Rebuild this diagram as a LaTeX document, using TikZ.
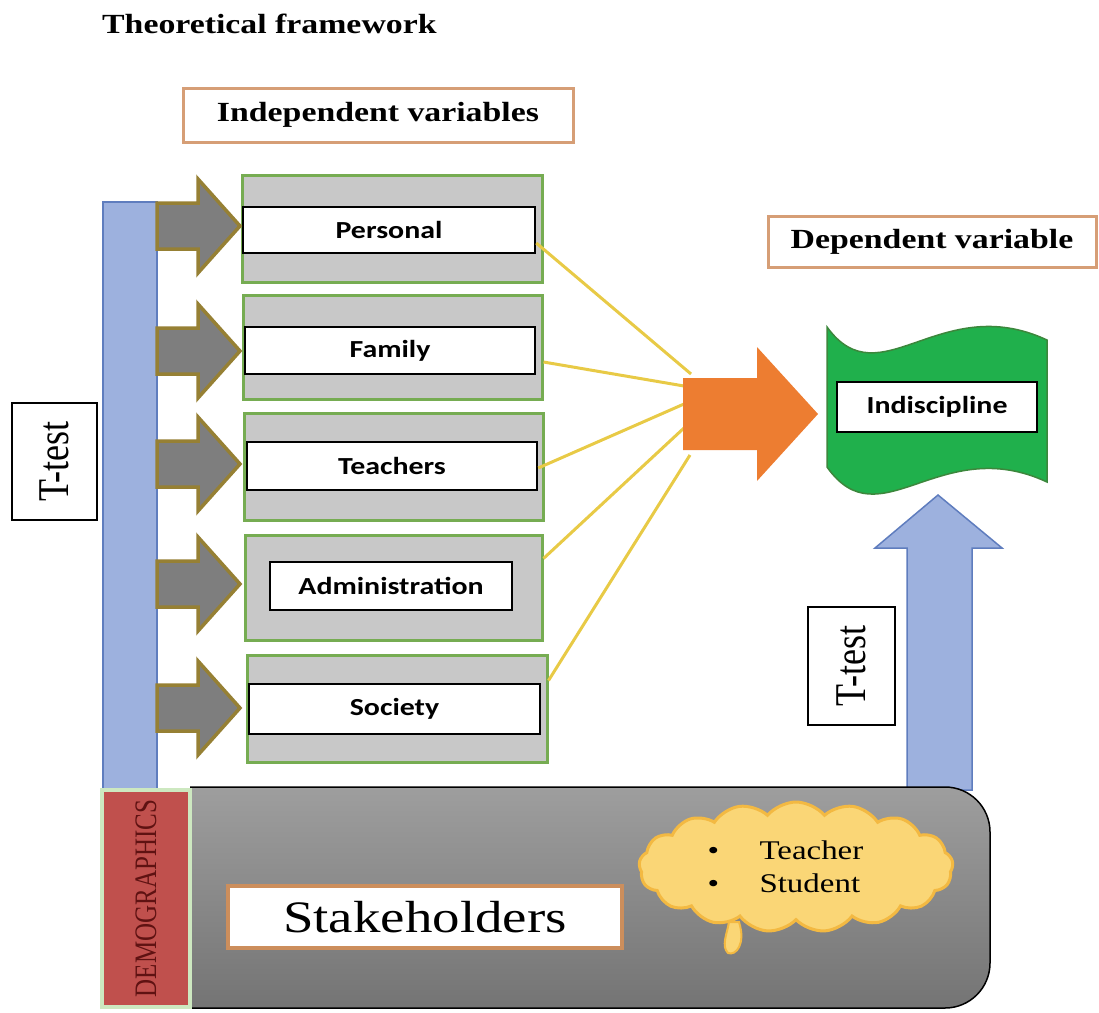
\documentclass[tikz,border=0pt]{standalone}
\usepackage{fontspec}
\usepackage{graphicx}
\setmainfont{Liberation Serif}
\newfontfamily\wideserif[FakeStretch=1.22]{Liberation Serif}
\newfontfamily\widesans[FakeStretch=1.22]{Carlito}
\usetikzlibrary{shapes.symbols}
\definecolor{tan1}{RGB}{214,158,118}
\definecolor{green1}{RGB}{118,172,82}
\definecolor{gray1}{RGB}{200,200,200}
\definecolor{gray2}{RGB}{126,126,126}
\definecolor{olive1}{RGB}{150,128,52}
\definecolor{blue1}{RGB}{157,177,222}
\definecolor{blue2}{RGB}{95,125,190}
\definecolor{orange1}{RGB}{237,125,49}
\definecolor{yellow1}{RGB}{232,202,70}
\definecolor{green2}{RGB}{32,176,76}
\definecolor{green3}{RGB}{60,135,60}
\definecolor{red1}{RGB}{192,80,77}
\definecolor{red2}{RGB}{95,18,18}
\definecolor{cloud1}{RGB}{250,214,118}
\definecolor{cloud2}{RGB}{243,185,66}
\definecolor{brown1}{RGB}{204,142,92}
\definecolor{demoedge}{RGB}{205,232,192}
\definecolor{panel1}{RGB}{158,158,158}
\definecolor{panel2}{RGB}{116,116,116}

\begin{document}
\begin{tikzpicture}[x=1pt, y=-1pt, line join=miter,
  headbox/.style={draw=tan1, line width=3pt, fill=white, inner sep=0pt,
    font=\wideserif\bfseries\fontsize{27.7}{32}\selectfont},
  outerbox/.style={draw=green1, line width=3pt, fill=gray1, inner sep=0pt},
  innerbox/.style={draw=black, line width=2.5pt, fill=white, inner sep=0pt,
    font=\widesans\bfseries\fontsize{24.5}{28}\selectfont},
  ttestbox/.style={draw=black, line width=2pt, fill=white, inner sep=0pt, rotate=90,
    font=\fontsize{36}{40}\selectfont},
  grayarrow/.style={fill=gray2, draw=olive1, line width=3.5pt},
  yline/.style={draw=yellow1, line width=3pt}]
\useasboundingbox (0,0) rectangle (1099,1012);

% bars and arrows behind the stakeholder panel
\draw[fill=blue1, draw=blue2, line width=1.5pt] (103,202) rectangle (157,790);
\draw[fill=blue1, draw=blue2, line width=1.5pt] (907,790) -- (907,548) -- (875,548) -- (938,495)
  -- (1002,548) -- (972,548) -- (972,790) -- cycle;

\shade[top color=panel1, bottom color=panel2, draw=black, line width=1.5pt, rounded corners=45pt]
  (190,787) -- (990,787) -- (990,1008) -- (190,1008);

\node[rotate=90, draw=demoedge, line width=4pt, fill=red1, inner sep=0pt, text=red2,
  minimum width=217pt, minimum height=88pt, font=\fontsize{25}{28}\selectfont]
  (demo) at (146,898.5) {\scalebox{1}[1.25]{DEMOGRAPHICS}};

\node[draw=brown1, line width=3.5pt, fill=white, inner sep=0pt, minimum width=394pt,
  minimum height=62pt, font=\wideserif\fontsize{45}{50}\selectfont]
  (stake) at (425,917) {Stakeholders};

% thought cloud
\draw[fill=cloud1, draw=cloud2, line width=2pt] (739,922) .. controls (746,944) and (736,956) .. (728,953)
  .. controls (721,946) and (727,934) .. (729,922) -- cycle;
\node[cloud, cloud puffs=17, cloud puff arc=100, cloud ignores aspect, draw=cloud2, line width=3pt,
  fill=cloud1, minimum width=314pt, minimum height=130pt, inner sep=0pt] (roles) at (796,867) {};
\node[anchor=base west, font=\wideserif\fontsize{27}{30}\selectfont] (teacher) at (704,859)
  {\makebox[52pt][l]{\textbullet}Teacher};
\node[anchor=base west, font=\wideserif\fontsize{27}{30}\selectfont] (student) at (704,892)
  {\makebox[52pt][l]{\textbullet}Student};

% headings
\node[anchor=base west, inner sep=0pt, font=\wideserif\bfseries\fontsize{27.7}{32}\selectfont]
  (title) at (102,33) {Theoretical framework};
\node[headbox, minimum width=390pt, minimum height=54pt] (indep) at (378,115) {Independent variables};
\node[headbox, minimum width=328pt, minimum height=51pt] (dep) at (932,241.5) {Dependent variable};

\node[ttestbox, minimum width=117pt, minimum height=85pt] (ttL) at (54.5,461.5) {\scalebox{1}[1.22]{T-test}};
\node[ttestbox, minimum width=118pt, minimum height=87pt] (ttR) at (851.5,666) {\scalebox{1}[1.22]{T-test}};

% independent variables
\node[outerbox, minimum width=300pt, minimum height=107pt] (persO) at (392,228.5) {};
\node[innerbox, minimum width=292pt, minimum height=46pt] (persI) at (389,230) {Personal};
\node[outerbox, minimum width=299pt, minimum height=104pt] (famO) at (392.5,347) {};
\node[innerbox, minimum width=290pt, minimum height=47pt] (famI) at (390,350.5) {Family};
\node[outerbox, minimum width=299pt, minimum height=107pt] (teachO) at (393.5,466.5) {};
\node[innerbox, minimum width=290pt, minimum height=48pt] (teachI) at (392,466) {Teachers};
\node[outerbox, minimum width=297pt, minimum height=105pt] (adminO) at (393.5,587.5) {};
\node[innerbox, minimum width=242pt, minimum height=48pt] (adminI) at (391,586) {Administration};
\node[outerbox, minimum width=300pt, minimum height=107pt] (socO) at (397,708.5) {};
\node[innerbox, minimum width=291pt, minimum height=50pt] (socI) at (394.5,709) {Society};

\foreach \yc in {226,351,464,584,708}
  \draw[grayarrow] (157,\yc-23) -- (198,\yc-23) -- (198,\yc-47) -- (240,\yc)
    -- (198,\yc+47) -- (198,\yc+23) -- (157,\yc+23) -- cycle;

% yellow lines into the orange arrow
\coordinate (oa1) at (691,374);
\coordinate (oa2) at (684,386);
\coordinate (oa3) at (684,404);
\coordinate (oa4) at (684,428);
\coordinate (oa5) at (690,455);
\draw[yline] ([yshift=-13pt]persI.east) -- (oa1);
\draw[yline] ([yshift=-15pt]famO.east) -- (oa2);
\draw[yline] ([yshift=-2pt]teachI.east) -- (oa3);
\draw[yline] ([yshift=29pt]adminO.east) -- (oa4);
\draw[yline] ([yshift=28pt]socO.east) -- (oa5);
\fill[orange1] (683,378) -- (757,378) -- (757,347) -- (818,414) -- (757,481) -- (757,450)
  -- (683,450) -- cycle;

% dependent variable
\draw[fill=green2, draw=green3, line width=1.5pt] (827,467) -- (827,327)
  .. controls (880,400) and (940,290) .. (1047,340) -- (1047,482)
  .. controls (940,432) and (880,542) .. (827,467) -- cycle;
\node[innerbox, minimum width=200pt, minimum height=50pt] (indisc) at (937,407) {Indiscipline};
\end{tikzpicture}
\end{document}
